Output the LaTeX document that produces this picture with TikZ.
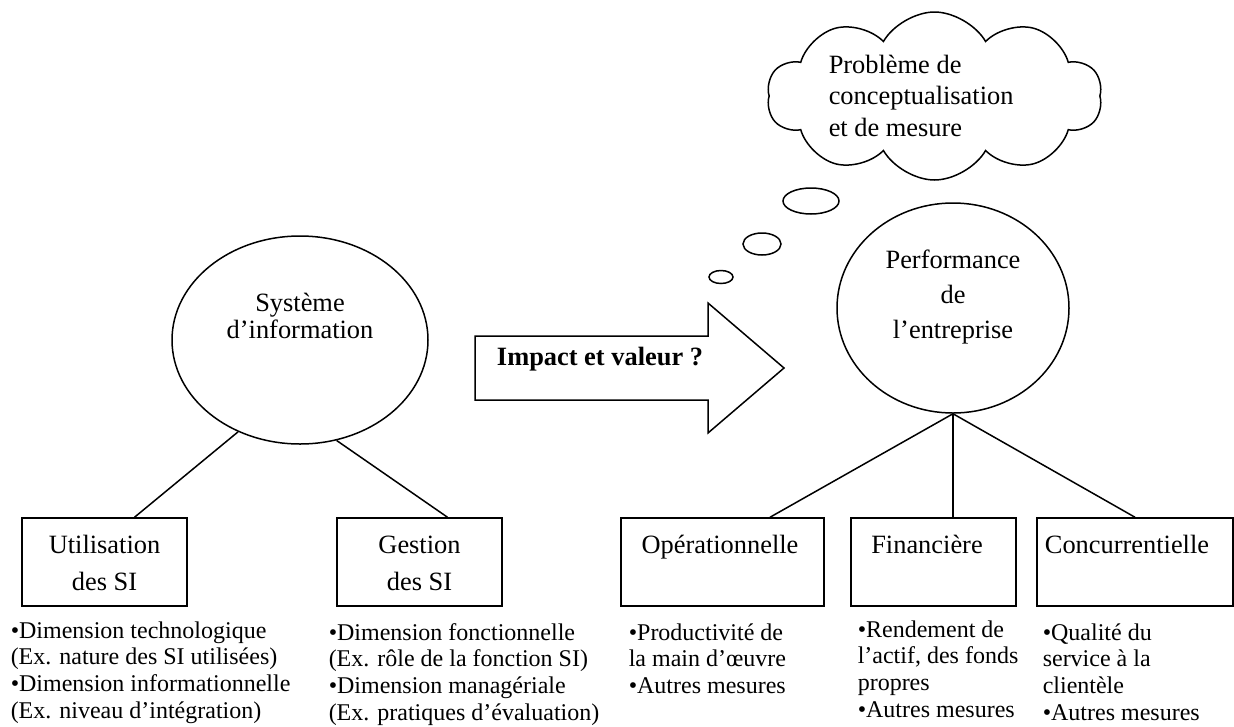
\documentclass[tikz,border=0pt]{standalone}
\usepackage{fontspec}
\setmainfont{Liberation Serif}
\usetikzlibrary{shapes.geometric,shapes.symbols}
% multi-line blocks whose baseline is the first line's baseline
\newcommand\blockL[2]{\vtop{\baselineskip=#1\lineskiplimit=-1000pt\lineskip=0pt\halign{##\hfil\cr#2\crcr}}}
\newcommand\blockC[2]{\vtop{\baselineskip=#1\lineskiplimit=-1000pt\lineskip=0pt\halign{\hfil##\hfil\cr#2\crcr}}}
\begin{document}
\begin{tikzpicture}[x=1pt,y=-1pt,line width=1.5pt,
  txt/.style={inner sep=0pt,font=\fontsize{26.4pt}{27pt}\selectfont},
  small/.style={inner sep=0pt,font=\fontsize{24pt}{27pt}\selectfont},
  oval/.style={draw,ellipse,inner sep=0pt},
  dimbox/.style={draw,rectangle,inner sep=0pt,minimum height=88pt},
  link/.style={line width=1.5pt}]
\useasboundingbox (0,0) rectangle (1234,726);

% main concepts
\node[oval,minimum width=256pt,minimum height=208pt] (sys) at (300,340) {};
\node[txt,anchor=base] (systxt) at (300,311) {\blockC{27pt}{Système\cr d’information}};

\node[oval,minimum width=232pt,minimum height=210pt] (perf) at (953,308) {};
\node[txt,anchor=base] (perftxt) at (953,268) {\blockC{35pt}{Performance\cr de\cr l’entreprise}};

% thought cloud with its bubbles
\node[draw,cloud,cloud puffs=10,cloud puff arc=120,aspect=2,
      minimum width=335pt,minimum height=168pt,inner sep=0pt] (think) at (934.5,96) {};
\node[txt,anchor=base west] (thinktxt) at (828,73) {\blockL{31.5pt}{Problème de\cr conceptualisation\cr et de mesure}};
\node[oval,minimum width=56pt,minimum height=26pt] (bub1) at (811,201) {};
\node[oval,minimum width=38pt,minimum height=22pt] (bub2) at (762,244) {};
\node[oval,minimum width=24pt,minimum height=13pt] (bub3) at (721,277) {};

% block arrow between the two concepts
\coordinate (ta) at (475,336);
\coordinate (tb) at (475,400);
\coordinate (tip) at (784,368);
\draw[line join=miter] (ta) -- (708,336) -- (708,303) -- (tip) -- (708,433) -- (708,400) -- (tb) -- cycle;
\node[txt,anchor=base,font=\fontsize{26.4pt}{27pt}\selectfont\bfseries] (impact) at (600,365) {Impact et valeur ?};

% dimension boxes
\node[dimbox,minimum width=165pt] (util) at (104.5,562) {};
\node[dimbox,minimum width=165pt] (gest) at (419.5,562) {};
\node[dimbox,minimum width=203pt] (oper) at (722.5,562) {};
\node[dimbox,minimum width=165pt] (fin)  at (933.5,562) {};
\node[dimbox,minimum width=196pt] (conc) at (1135,562) {};

\node[txt,anchor=base] (utiltxt) at (104.5,553) {\blockC{37pt}{Utilisation\cr des SI}};
\node[txt,anchor=base] (gesttxt) at (419.5,553) {\blockC{37pt}{Gestion\cr des SI}};
\node[txt,anchor=base] (opertxt) at (720,553) {Opérationnelle};
\node[txt,anchor=base] (fintxt)  at (927,553) {Financière};
\node[txt,anchor=base] (conctxt) at (1127,553) {Concurrentielle};

% connectors
\draw[link] (sys.-124) -- ([xshift=30pt]util.north);
\draw[link] (sys.-70) -- ([xshift=28pt]gest.north);
\draw[link] (perf.south) -- ([xshift=47.5pt]oper.north);
\draw[link] (perf.south) -- (perf.south |- fin.north);
\draw[link] (perf.south) -- (conc.north);

% measures under each box
\node[small,anchor=base west] (utilm) at (10,638) {\blockL{26.7pt}{•Dimension technologique\cr (Ex. nature des SI utilisées)\cr •Dimension informationnelle\cr (Ex. niveau d’intégration)}};
\node[small,anchor=base west] (gestm) at (328,640) {\blockL{26.7pt}{•Dimension fonctionnelle\cr (Ex. rôle de la fonction SI)\cr •Dimension managériale\cr (Ex. pratiques d’évaluation)}};
\node[small,anchor=base west] (operm) at (628,640) {\blockL{26.7pt}{•Productivité de\cr la main d’œuvre\cr •Autres mesures}};
\node[small,anchor=base west] (finm)  at (857,637) {\blockL{26.7pt}{•Rendement de\cr l’actif, des fonds\cr propres\cr •Autres mesures}};
\node[small,anchor=base west] (concm) at (1042,640) {\blockL{26.7pt}{•Qualité du\cr service à la\cr clientèle\cr •Autres mesures}};
\end{tikzpicture}
\end{document}
